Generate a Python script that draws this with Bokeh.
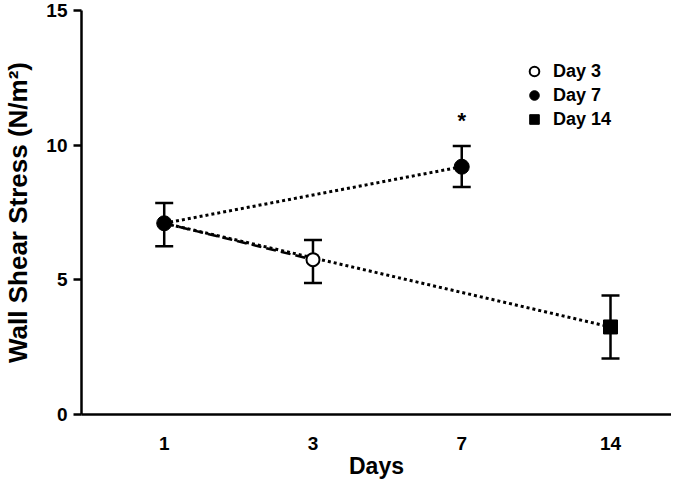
from bokeh.plotting import figure
from bokeh.models import Range1d, ColumnDataSource, Whisker, TeeHead, FixedTicker, Legend, LegendItem
from bokeh.core.properties import value
from bokeh.embed import file_html
from bokeh.resources import INLINE

days = ["1", "3", "7", "14"]
wss_mean = [7.1, 5.75, 9.2, 3.25]
wss_upper = [7.85, 6.48, 9.97, 4.42]
wss_lower = [6.25, 4.88, 8.45, 2.08]
y_ticks = [0, 5, 10, 15]
sig_day = "7"
sig_y = 10.9
sig_mark = "*"

FONT = "Liberation Sans"
xpos = list(range(len(days)))
xmap = dict(zip(days, xpos))

p = figure(width=671, height=481, output_backend="svg", toolbar_location=None,
           x_range=Range1d(-0.556, 3.41), y_range=Range1d(0, 15),
           min_border_left=79, min_border_top=10, min_border_right=0, min_border_bottom=66)
p.outline_line_color = None
p.grid.grid_line_color = None
p.background_fill_color = "white"
p.border_fill_color = "white"

# axes
p.xaxis.axis_label = "Days"
p.yaxis.axis_label = "Wall Shear Stress (N/m²)"
for ax in (p.xaxis, p.yaxis):
    ax.axis_line_width = 2.5
    ax.axis_line_color = "black"
    ax.axis_label_text_font = FONT
    ax.axis_label_text_font_style = "bold"
    ax.axis_label_text_color = "black"
    ax.major_label_text_font = FONT
    ax.major_label_text_font_style = "bold"
    ax.major_label_text_font_size = "19px"
    ax.major_label_text_color = "black"
    ax.minor_tick_line_color = None
p.xaxis.axis_label_text_font_size = "23px"
p.yaxis.axis_label_text_font_size = "26px"
p.xaxis.ticker = FixedTicker(ticks=xpos)
p.xaxis.major_label_overrides = {i: d for i, d in zip(xpos, days)}
p.xaxis.major_tick_line_color = None
p.xaxis.major_label_standoff = 16
p.xaxis.axis_label_standoff = 0
p.yaxis.ticker = FixedTicker(ticks=y_ticks)
p.yaxis.major_tick_line_width = 2.5
p.yaxis.major_tick_in = 0
p.yaxis.major_tick_out = 8
p.yaxis.major_label_standoff = 6
p.yaxis.axis_label_standoff = 10

# connecting lines
p.line(x=[xpos[0], xpos[2]], y=[wss_mean[0], wss_mean[2]], line_color="black",
       line_width=3, line_dash="3 3")
p.line(x=[xpos[0], xpos[3]], y=[wss_mean[0], wss_mean[3]], line_color="black",
       line_width=3, line_dash="3 3")
p.line(x=[xpos[0], xpos[1]], y=[wss_mean[0], wss_mean[1]], line_color="black",
       line_width=2.5, line_dash="10 5")

# error bars
src = ColumnDataSource(dict(x=xpos, y=wss_mean, upper=wss_upper, lower=wss_lower))
w = Whisker(base="x", upper="upper", lower="lower", source=src,
            line_color="black", line_width=2.5,
            upper_head=TeeHead(size=18, line_width=2.5, line_color="black"),
            lower_head=TeeHead(size=18, line_width=2.5, line_color="black"))
p.add_layout(w)

# markers
p.scatter(x=[xpos[0]], y=[wss_mean[0]], marker="circle", size=15,
          fill_color="black", line_color="black")
r3 = p.scatter(x=[xpos[1]], y=[wss_mean[1]], marker="circle", size=13,
               fill_color="white", line_color="black", line_width=2)
r7 = p.scatter(x=[xpos[2]], y=[wss_mean[2]], marker="circle", size=15,
               fill_color="black", line_color="black")
r14 = p.scatter(x=[xpos[3]], y=[wss_mean[3]], marker="square", size=14,
                fill_color="black", line_color="black")

p.text(x=[xmap[sig_day]], y=[sig_y], text=[sig_mark], text_font=value(FONT),
       text_font_style="bold", text_font_size="22px", text_align="center",
       text_baseline="middle", text_color="black")

legend = Legend(items=[LegendItem(label="Day 3", renderers=[r3]),
                       LegendItem(label="Day 7", renderers=[r7]),
                       LegendItem(label="Day 14", renderers=[r14])],
                location=(440, 283))
legend.border_line_color = None
legend.background_fill_alpha = 0
legend.padding = 0
legend.margin = 0
legend.label_text_font = FONT
legend.label_text_font_style = "bold"
legend.label_text_font_size = "18px"
legend.label_text_color = "black"
legend.glyph_width = 26
legend.glyph_height = 24
legend.spacing = 0
legend.label_standoff = 6
p.add_layout(legend)

open("out.html", "w").write(file_html(p, INLINE))
